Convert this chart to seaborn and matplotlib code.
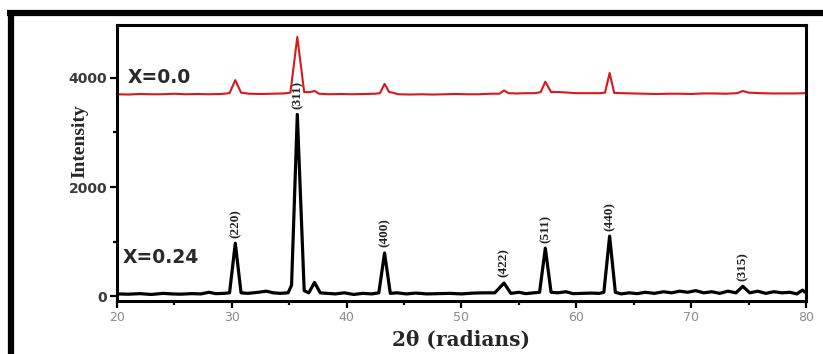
import matplotlib
matplotlib.use("Agg")
import matplotlib.pyplot as plt
import seaborn as sns
import pandas as pd
from matplotlib.lines import Line2D
from matplotlib.ticker import MultipleLocator

# ---- data ----
black_x = [20, 21, 22, 23, 24, 24.8, 25.5, 26.5, 27.3, 28, 28.6, 29.3, 29.8, 30.3, 30.8,
           31.4, 32.3, 33.0, 33.6, 34.2, 34.9, 35.2, 35.7, 36.3, 36.7, 37.2, 37.7, 38.3,
           39.0, 39.8, 40.6, 41.4, 42.2, 42.8, 43.3, 43.8, 44.4, 45.2, 46.0, 47.0, 48.0,
           49.0, 50.0, 51.0, 52.0, 52.9, 53.7, 54.3, 55.0, 55.6, 56.3, 56.8, 57.3, 57.8,
           58.4, 59.1, 59.7, 60.5, 61.3, 62.0, 62.4, 62.9, 63.4, 63.9, 64.6, 65.3, 66.0,
           66.8, 67.6, 68.3, 69.0, 69.7, 70.4, 71.1, 71.8, 72.5, 73.2, 73.9, 74.5, 75.1,
           75.8, 76.5, 77.2, 77.9, 78.6, 79.2, 79.7, 80.0]
black_y = [40, 35, 45, 30, 50, 40, 35, 45, 40, 70, 45, 50, 60, 970, 60,
           50, 70, 90, 60, 50, 60, 200, 3330, 100, 60, 250, 60, 50,
           40, 60, 30, 50, 40, 60, 790, 50, 60, 40, 55, 40, 45,
           50, 40, 55, 60, 60, 240, 50, 70, 45, 60, 70, 880, 70,
           60, 80, 45, 50, 55, 50, 70, 1100, 70, 40, 60, 45, 70,
           50, 80, 60, 90, 70, 100, 60, 80, 50, 90, 60, 180, 60,
           90, 50, 80, 60, 70, 40, 110, 60]

red_x = [20, 21, 22, 23, 24, 25, 26, 27, 28, 29, 29.8, 30.3, 30.8, 31.5, 32.5, 33.5, 34.5,
         35.1, 35.7, 36.3, 36.8, 37.2, 37.6, 38.5, 39.5, 40.5, 41.5, 42.5, 42.9, 43.3,
         43.7, 44.0, 44.5, 45.5, 46.5, 47.5, 48.5, 49.5, 50.5, 51.5, 52.5, 53.3, 53.7,
         54.1, 54.8, 55.6, 56.4, 56.9, 57.3, 57.8, 58.5, 59.3, 60.0, 61.0, 62.0, 62.5,
         62.9, 63.3, 64.0, 65.0, 66.0, 67.0, 68.0, 69.0, 70.0, 71.0, 72.0, 73.0, 74.0,
         74.5, 75.0, 76.0, 77.0, 78.0, 79.0, 80.0]
red_y = [3700, 3695, 3705, 3700, 3700, 3710, 3700, 3705, 3700, 3705, 3720, 3960, 3730, 3710,
         3705, 3710, 3715, 3730, 4750, 3740, 3740, 3760, 3710, 3700, 3705, 3700, 3705, 3710,
         3720, 3890, 3740, 3730, 3700, 3695, 3700, 3695, 3700, 3705, 3700, 3700, 3710, 3710,
         3770, 3720, 3715, 3720, 3720, 3740, 3930, 3740, 3740, 3730, 3720, 3720, 3720, 3730,
         4090, 3725, 3720, 3715, 3710, 3705, 3710, 3710, 3705, 3715, 3715, 3710, 3720,
         3760, 3730, 3720, 3715, 3715, 3715, 3720]

peak_x = [30.3, 35.7, 43.3, 53.7, 57.3, 62.9, 74.5]
peak_labels = ["(220)", "(311)", "(400)", "(422)", "(511)", "(440)", "(315)"]

series_labels = ["X=0.0", "X=0.24"]
y_ticks = [0, 2000, 4000]
x_ticks = [20, 30, 40, 50, 60, 70, 80]

# ---- figure ----
sns.set_style("ticks")
fig = plt.figure(figsize=(8.23, 3.54), dpi=100)
ax = fig.add_axes([0.1422, 0.1497, 0.8371, 0.7797])

df_b = pd.DataFrame({"x": black_x, "y": black_y})
df_r = pd.DataFrame({"x": red_x, "y": red_y})
sns.lineplot(data=df_b, x="x", y="y", ax=ax, color="black", lw=2.3, sort=False)
sns.lineplot(data=df_r, x="x", y="y", ax=ax, color="#d8181c", lw=1.5, sort=False)

ax.set_xlim(20, 80)
ax.set_ylim(-90, 4970)
ax.set_xticks(x_ticks)
ax.set_yticks(y_ticks)
ax.xaxis.set_minor_locator(MultipleLocator(5))
ax.yaxis.set_minor_locator(MultipleLocator(1000))
ax.tick_params(axis="both", which="both", direction="out", width=1.6, color="black")
ax.tick_params(axis="both", which="major", length=5)
ax.tick_params(axis="both", which="minor", length=3)
ax.tick_params(axis="x", labelsize=9, labelcolor="#8a8a8a", pad=2)
ax.tick_params(axis="y", labelsize=10, labelcolor="#3a3a3a", pad=2)
for lab in ax.get_yticklabels():
    lab.set_fontweight("bold")

for side in ["top", "bottom", "left", "right"]:
    ax.spines[side].set_visible(True)
    ax.spines[side].set_linewidth(2.2)
    ax.spines[side].set_color("black")

ax.set_xlabel("2θ (radians)", fontsize=14.5, fontweight="bold",
              family=["DejaVu Serif"])
ax.xaxis.set_label_coords(0.50, -0.105)
ax.set_ylabel("Intensity", fontsize=14, fontweight="bold",
              family=["Liberation Serif", "DejaVu Serif"])
ax.yaxis.set_label_coords(-0.042, 0.58)

# series labels
ax.text(20.9, 4000, series_labels[0], fontsize=13.5, fontweight="bold",
        color="#2a2a2a", va="center", ha="left")
ax.text(20.5, 700, series_labels[1], fontsize=13.5, fontweight="bold",
        color="#2a2a2a", va="center", ha="left")

# peak labels
lookup = dict(zip(black_x, black_y))
for px, lab in zip(peak_x, peak_labels):
    ax.annotate(lab, xy=(px, lookup[px]), xytext=(0, 4), textcoords="offset points",
                rotation=90, ha="center", va="bottom", fontsize=9.5, fontweight="bold",
                family=["Liberation Serif", "DejaVu Serif"], color="#222222")

# outer frame of the picture (top and left edges)
fig.add_artist(Line2D([0.009, 1.0], [0.963, 0.963], transform=fig.transFigure,
                      color="black", lw=4.5, solid_capstyle="butt"))
fig.add_artist(Line2D([0.013, 0.013], [0.0, 0.963], transform=fig.transFigure,
                      color="black", lw=4.5, solid_capstyle="butt"))

fig.savefig("out.png", dpi=100)
